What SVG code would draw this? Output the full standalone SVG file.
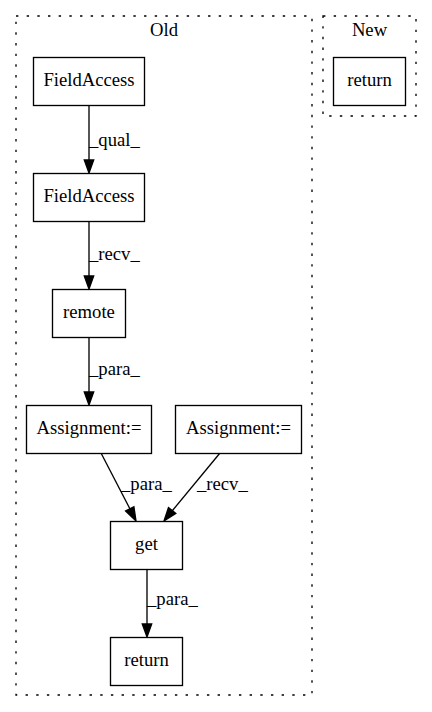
<svg xmlns="http://www.w3.org/2000/svg" width="432" height="712" viewBox="0 0 432 712">
<style>
.cl{fill:none;stroke:#000;stroke-width:1.33;stroke-dasharray:2.4,8.27}
.nd{fill:#fff;stroke:#000;stroke-width:1.33}
text{font-family:"Liberation Serif","Times New Roman",serif;font-size:18.67px;fill:#000}
.c{text-anchor:middle}
.e{fill:none;stroke:#000;stroke-width:1.33}
.ah{fill:#000;stroke:#000;stroke-width:1.33}
</style>
<rect width="432" height="712" fill="#fff"/>
<g id="cluster_old">
<rect class="cl" x="16" y="16" width="296" height="679"/>
<text class="c" x="164" y="36">Old</text>
</g>
<g id="cluster_new">
<rect class="cl" x="323" y="16" width="93" height="100"/>
<text class="c" x="369.5" y="36">New</text>
</g>
<g id="edges">
<path class="e" d="M89,105 V160"/><polygon class="ah" points="84.3,160 89,173 93.7,160"/>
<text x="89" y="146">_qual_</text>
<path class="e" d="M89,221 V276"/><polygon class="ah" points="84.3,276 89,289 93.7,276"/>
<text x="89" y="260">_recv_</text>
<path class="e" d="M89,337 V392"/><polygon class="ah" points="84.3,392 89,405 93.7,392"/>
<text x="89" y="375">_para_</text>
<path class="e" d="M101,453 L130,509"/><polygon class="ah" points="125.6,511 136,521 133.9,506.7"/>
<text x="121" y="490">_para_</text>
<path class="e" d="M220,453 L172.5,510.5"/><polygon class="ah" points="168.5,507.5 164,521 175.8,513.4"/>
<text x="197" y="490">_recv_</text>
<path class="e" d="M147,569 V624"/><polygon class="ah" points="142.3,624 147,637 151.7,624"/>
<text x="147" y="605">_para_</text>
</g>
<g id="n_fa1"><rect class="nd" x="33.5" y="57.5" width="111" height="48"/><text class="c" x="89" y="86">FieldAccess</text></g>
<g id="n_fa2"><rect class="nd" x="33.5" y="173.5" width="111" height="48"/><text class="c" x="89" y="202">FieldAccess</text></g>
<g id="n_remote"><rect class="nd" x="52.5" y="289.5" width="73" height="48"/><text class="c" x="89" y="318">remote</text></g>
<g id="n_assign1"><rect class="nd" x="26.5" y="405.5" width="125" height="48"/><text class="c" x="89" y="434">Assignment:=</text></g>
<g id="n_assign2"><rect class="nd" x="175.5" y="405.5" width="126" height="48"/><text class="c" x="238.5" y="434">Assignment:=</text></g>
<g id="n_get"><rect class="nd" x="110.5" y="521.5" width="72" height="48"/><text class="c" x="146.5" y="550">get</text></g>
<g id="n_return_old"><rect class="nd" x="110.5" y="637.5" width="72" height="48"/><text class="c" x="146.5" y="666">return</text></g>
<g id="n_return_new"><rect class="nd" x="333.5" y="57.5" width="72" height="48"/><text class="c" x="369.5" y="86">return</text></g>
</svg>
